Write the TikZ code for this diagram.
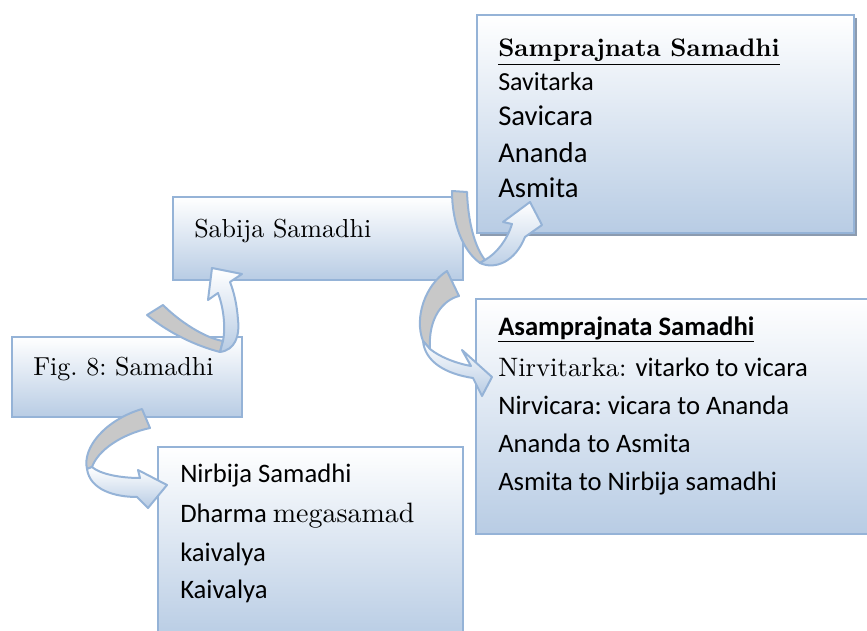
\documentclass[tikz,border=0pt]{standalone}
\usepackage{fontspec}
\setmainfont{lmroman10-regular.otf}[BoldFont=lmroman10-bold.otf]
\newfontfamily\carlito{Carlito}
\usetikzlibrary{shadows}
\frenchspacing
\definecolor{boxblue}{RGB}{184,204,228}
\definecolor{edgeblue}{RGB}{149,179,215}
\definecolor{bandgrey}{RGB}{200,200,200}
\definecolor{shadowgrey}{RGB}{140,155,175}
\tikzset{
  box/.style={rectangle, draw=edgeblue, line width=1.5pt, top color=white, bottom color=boxblue, inner sep=0pt},
  backband/.style={fill=bandgrey, draw=edgeblue, line width=1.5pt, line join=round},
  frontband/.style={top color=white, bottom color=boxblue, draw=edgeblue, line width=1.5pt, line join=round},
  txt/.style={anchor=base west, inner sep=0pt},
  rmbig/.style={txt, font=\fontsize{19.5}{23}\selectfont},
  sansline/.style={txt, font=\carlito\fontsize{20}{24}\selectfont},
  sansbig/.style={txt, font=\carlito\fontsize{21.5}{26}\selectfont}
}
\begin{document}
\begin{tikzpicture}[x=0.75pt, y=-0.75pt]
\useasboundingbox (0,0) rectangle (867,631);
\clip (0,0) rectangle (867,631);

\node (fig) [box, minimum width=172.5pt, minimum height=60pt] at (127,377) {};
\node (sabija) [box, minimum width=217.5pt, minimum height=62.25pt] at (318,238.5) {};
\node (sampra) [box, minimum width=282.75pt, minimum height=163.5pt,
  drop shadow={shadow xshift=2.5pt, shadow yshift=-2.5pt, fill=shadowgrey, opacity=1}] at (665.5,124) {};
\node (asampra) [box, minimum width=297pt, minimum height=176.25pt] at (674,416.5) {};
\node (nirbija) [box, minimum width=228.75pt, minimum height=144.75pt] at (310.5,543.5) {};

\node (figtxt) [rmbig] at (33,375) {Fig. 8: Samadhi};
\node (sabtxt) [rmbig] at (194,237) {Sabija Samadhi};

\node (samhead) [txt, font=\bfseries\fontsize{19}{23}\selectfont] at (498,57) {\underline{Samprajnata Samadhi}};
\node (sam1) [txt, font=\carlito\fontsize{19.5}{23}\selectfont] at (498,91) {Savitarka};
\node (sam2) [sansbig] at (498,126) {Savicara};
\node (sam3) [sansbig] at (498,162) {Ananda};
\node (sam4) [sansbig] at (498,197) {Asmita};

\node (asamhead) [txt, font=\carlito\bfseries\fontsize{20}{24}\selectfont] at (498,335) {\underline{Asamprajnata Samadhi}};
\node (asam1) [txt, font=\fontsize{20}{24}\selectfont] at (498,376) {Nirvitarka: {\carlito vitarko to vicara}};
\node (asam2) [sansline] at (498,414) {Nirvicara: vicara to Ananda};
\node (asam3) [sansline] at (498,452) {Ananda to Asmita};
\node (asam4) [sansline] at (498,490) {Asmita to Nirbija samadhi};

\node (nir1) [sansline] at (180,482) {Nirbija Samadhi};
\node (nir2) [sansline] at (180,522) {Dharma {\rmfamily\fontsize{21}{25}\selectfont megasamad}};
\node (nir3) [sansline] at (180,561) {kaivalya};
\node (nir4) [sansline] at (180,598) {Kaivalya};

% fig -> sabija
\draw[backband] (147,315) -- (163,305) .. controls (180,322) and (205,338) .. (223,341)
  -- (220,352) .. controls (197,346) and (170,334) .. (147,315) -- cycle;
\draw[frontband] (220,352) .. controls (235,350) and (240,336) .. (238,320)
  .. controls (237,305) and (234,292) .. (230,282) -- (242,274) -- (212,268) -- (208,300)
  -- (218,293) .. controls (223,306) and (226,326) .. (223,341) -- cycle;

% sabija -> sampra
\draw[backband] (452,191) -- (467,192) .. controls (468,220) and (474,246) .. (485,260)
  -- (480,263) .. controls (462,250) and (452,222) .. (452,191) -- cycle;
\draw[frontband] (480,263) .. controls (495,270) and (515,262) .. (525,237) -- (542,225)
  -- (530,202) -- (503,222) -- (512,224) .. controls (507,240) and (497,253) .. (485,260) -- cycle;

% sabija -> asampra
\draw[backband] (447,271) -- (459,296) .. controls (443,300) and (428,318) .. (430,349)
  -- (423,341) .. controls (414,318) and (425,285) .. (447,271) -- cycle;
\draw[frontband] (423,341) .. controls (425,362) and (446,374) .. (473,378) -- (482,396)
  -- (492,377) -- (462,350) -- (471,366) .. controls (455,363) and (440,357) .. (430,349) -- cycle;

% fig -> nirbija
\draw[backband] (142,409) -- (150,428) .. controls (122,434) and (98,450) .. (92,467)
  -- (87,469) .. controls (82,448) and (105,420) .. (142,409) -- cycle;
\draw[frontband] (87,469) .. controls (90,490) and (115,497) .. (137,497) -- (148,508)
  -- (167,485) -- (138,470) -- (140,478) .. controls (120,478) and (100,474) .. (92,467) -- cycle;
\end{tikzpicture}
\end{document}
